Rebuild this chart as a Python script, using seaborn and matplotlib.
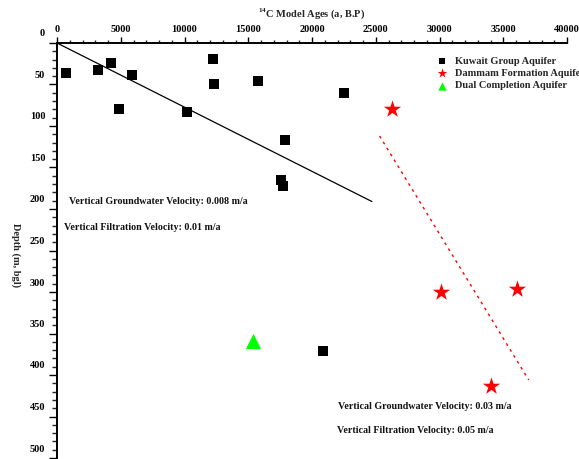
import matplotlib
matplotlib.use("Agg")
import matplotlib.pyplot as plt
from matplotlib.transforms import ScaledTranslation
from matplotlib.ticker import MultipleLocator
import seaborn as sns
import pandas as pd

# Radiocarbon model ages (years B.P.) and sampling depths (m below ground level)
kuwait_age = [700, 3200, 4250, 5900, 4900, 10200, 12200, 12350, 15800, 22500, 17850, 17600, 17700, 20900]
kuwait_depth = [36, 33, 24, 39, 80, 83, 19, 49, 46, 60, 117, 165, 172, 371]

dammam_age = [26300, 30150, 36100, 34050]
dammam_depth = [80, 300, 296, 413]

dual_age = [15400]
dual_depth = [359]

# Fitted velocity trends
kuwait_trend_age = [0, 24700]
kuwait_trend_depth = [0, 191]
dammam_trend_age = [25300, 37000]
dammam_trend_depth = [112, 406]

x_ticks = [0, 5000, 10000, 15000, 20000, 25000, 30000, 35000, 40000]
y_ticks = [0, 50, 100, 150, 200, 250, 300, 350, 400, 450, 500]

sns.set_theme(style="white")
plt.rcParams["font.family"] = ["Liberation Serif", "DejaVu Serif"]
plt.rcParams["font.weight"] = "bold"
plt.rcParams["mathtext.fontset"] = "custom"
plt.rcParams["mathtext.rm"] = "Liberation Serif:bold"
plt.rcParams["mathtext.bf"] = "Liberation Serif:bold"

df_k = pd.DataFrame({"age": kuwait_age, "depth": kuwait_depth})
df_d = pd.DataFrame({"age": dammam_age, "depth": dammam_depth})
df_u = pd.DataFrame({"age": dual_age, "depth": dual_depth})

fig = plt.figure(figsize=(5.79, 4.59), dpi=100)
ax = fig.add_axes([57 / 579, 1 / 459, 510 / 579, 415 / 459])

sns.scatterplot(data=df_k, x="age", y="depth", marker="s", s=62, color="black",
                linewidth=0, label="Kuwait Group Aquifer", ax=ax, zorder=3)
sns.scatterplot(data=df_d, x="age", y="depth", marker="*", s=170, color="#ff0000",
                linewidth=0, label="Dammam Formation Aquifer", ax=ax, zorder=3)
sns.scatterplot(data=df_u, x="age", y="depth", marker="^", s=120, color="#00ff00",
                linewidth=0, label="Dual Completion Aquifer", ax=ax, zorder=3)

ax.plot(kuwait_trend_age, kuwait_trend_depth, color="black", lw=0.9, zorder=2)
ax.plot(dammam_trend_age, dammam_trend_depth, color="#ff0000", lw=1.0,
        linestyle=(0, (2, 3)), zorder=2)

ax.set_xlim(0, 40000)
ax.set_ylim(500, 0)

ax.xaxis.tick_top()
ax.xaxis.set_label_position("top")
ax.set_xticks(x_ticks)
ax.set_xticklabels([str(v) for v in x_ticks])
ax.set_yticks(y_ticks)
ax.set_yticklabels([str(v) for v in y_ticks])
ax.xaxis.set_minor_locator(MultipleLocator(1000))
ax.yaxis.set_minor_locator(MultipleLocator(10))

ax.tick_params(axis="x", which="major", direction="out", length=4.5, width=1.0,
               top=True, bottom=False, labelsize=7.5, pad=2, colors="black")
ax.tick_params(axis="x", which="minor", direction="out", length=2.5, width=1.0,
               top=True, bottom=False)
ax.tick_params(axis="y", which="major", direction="out", length=5.5, width=1.0,
               left=True, labelsize=7.5, pad=3, colors="black")
ax.tick_params(axis="y", which="minor", direction="out", length=3.5, width=1.0,
               left=True)

# Depth labels sit slightly above their tick marks
shift = ScaledTranslation(0, 10 / 100, fig.dpi_scale_trans)
for lab in ax.get_yticklabels():
    lab.set_transform(lab.get_transform() + shift)
    lab.set_fontweight("bold")
for lab in ax.get_xticklabels():
    lab.set_fontweight("bold")

for side in ["right", "bottom"]:
    ax.spines[side].set_visible(False)
for side in ["left", "top"]:
    ax.spines[side].set_linewidth(1.4)
    ax.spines[side].set_color("black")

ax.set_xlabel(r"$^{14}$C Model Ages (a, B.P)", fontsize=7.5, fontweight="bold", labelpad=6)
ax.set_ylabel("Depth (m, bgl)", fontsize=7.5, fontweight="bold", rotation=270,
              labelpad=14)
ax.yaxis.set_label_coords(-0.09, 0.49)

txt = dict(fontsize=7.2, fontweight="bold", color="#111111", va="center", ha="left")
ax.text(950, 191, "Vertical Groundwater Velocity: 0.008 m/a", **txt)
ax.text(550, 222.5, "Vertical Filtration Velocity: 0.01 m/a", **txt)
ax.text(22050, 438, "Vertical Groundwater Velocity: 0.03 m/a", **txt)
ax.text(21950, 467, "Vertical Filtration Velocity: 0.05 m/a", **txt)

leg = ax.legend(loc="upper left", bbox_to_anchor=(0.735, 0.977), frameon=False,
                fontsize=7.5, markerscale=0.55, handletextpad=0.6, labelspacing=0.28,
                borderaxespad=0, handlelength=1.2)
for t in leg.get_texts():
    t.set_fontweight("bold")
leg.set_clip_on(False)

fig.savefig("out.png", dpi=100)
